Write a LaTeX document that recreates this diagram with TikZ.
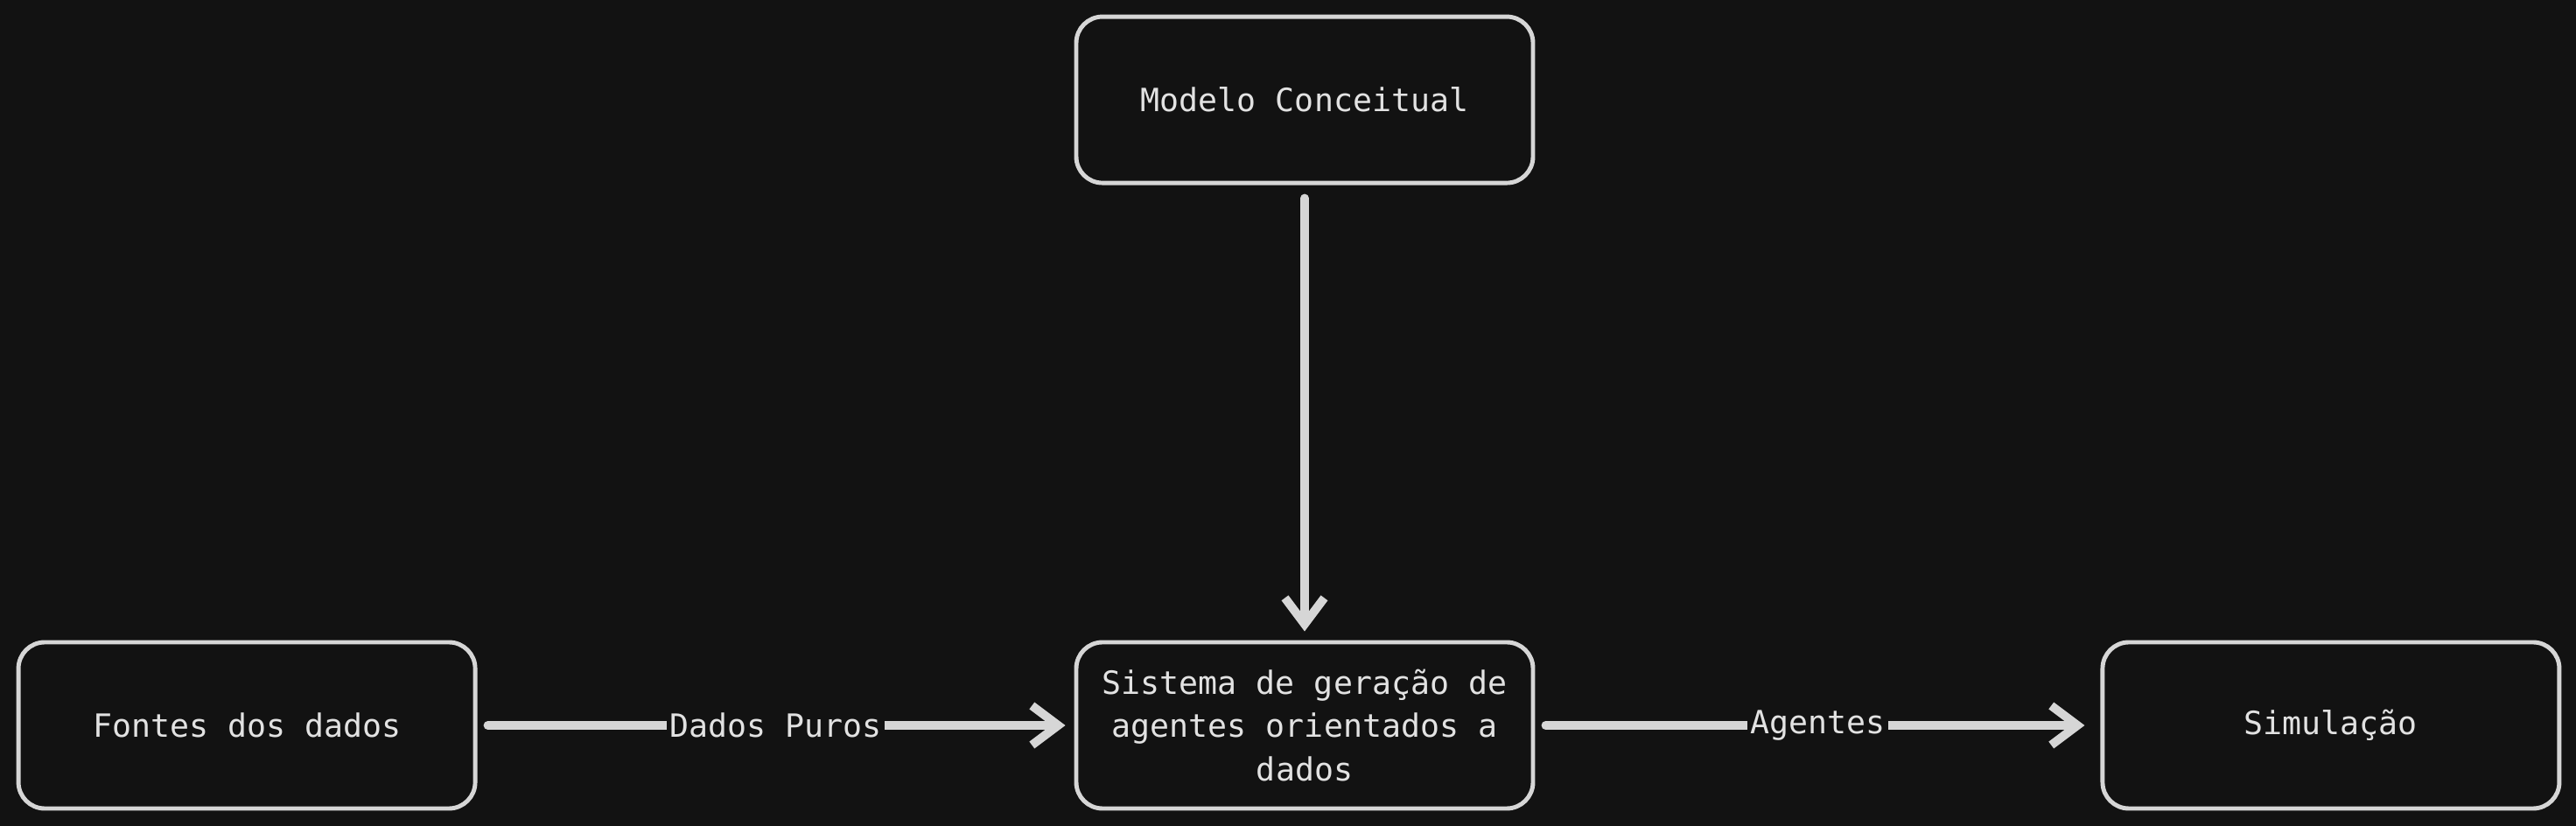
\documentclass[tikz,border=0pt]{standalone}
\usepackage{fontspec}
\setmonofont{DejaVu Sans Mono}
\usetikzlibrary{positioning,arrows.meta}
\definecolor{bgdark}{HTML}{121212}
\definecolor{strokegray}{HTML}{D6D6D6}
\definecolor{textgray}{HTML}{E2E2E2}

\begin{document}
\begin{tikzpicture}[
    block/.style={draw=strokegray, line width=1.4pt, rounded corners=0.3cm,
      minimum width=5.22cm, minimum height=1.9cm, align=center,
      text=textgray, font=\ttfamily\fontsize{10.4}{14.2}\selectfont},
    flow/.style={draw=strokegray, line width=2.8pt, line cap=round,
      -{Straight Barb[length=0.3cm,width=0.45cm]}},
    flowlabel/.style={fill=bgdark, text=textgray, inner sep=1pt,
      font=\ttfamily\fontsize{10.4}{14.2}\selectfont}
  ]
  % background
  \fill[bgdark] (0,0) rectangle (29.44,9.44);
  \useasboundingbox (0,0) rectangle (29.44,9.44);

  % boxes
  \node[block] (sistema) at (14.91,1.15) {Sistema de geração de\\agentes orientados a\\dados};
  \node[block, above=5.2cm of sistema] (modelo) {Modelo Conceitual};
  \node[block, left=6.82cm of sistema] (fontes) {Fontes dos dados};
  \node[block, right=6.46cm of sistema] (simulacao) {Simulação};

  % arrows
  \draw[flow, shorten <=0.15cm, shorten >=0.1cm] (modelo) -- (sistema);
  \draw[flow, shorten <=0.12cm, shorten >=0.1cm] (fontes) --
    node[flowlabel] (dadospuros) {Dados Puros} (sistema);
  \draw[flow, shorten <=0.12cm, shorten >=0.18cm] (sistema) --
    node[flowlabel] (agentes) {Agentes} (simulacao);
\end{tikzpicture}
\end{document}
